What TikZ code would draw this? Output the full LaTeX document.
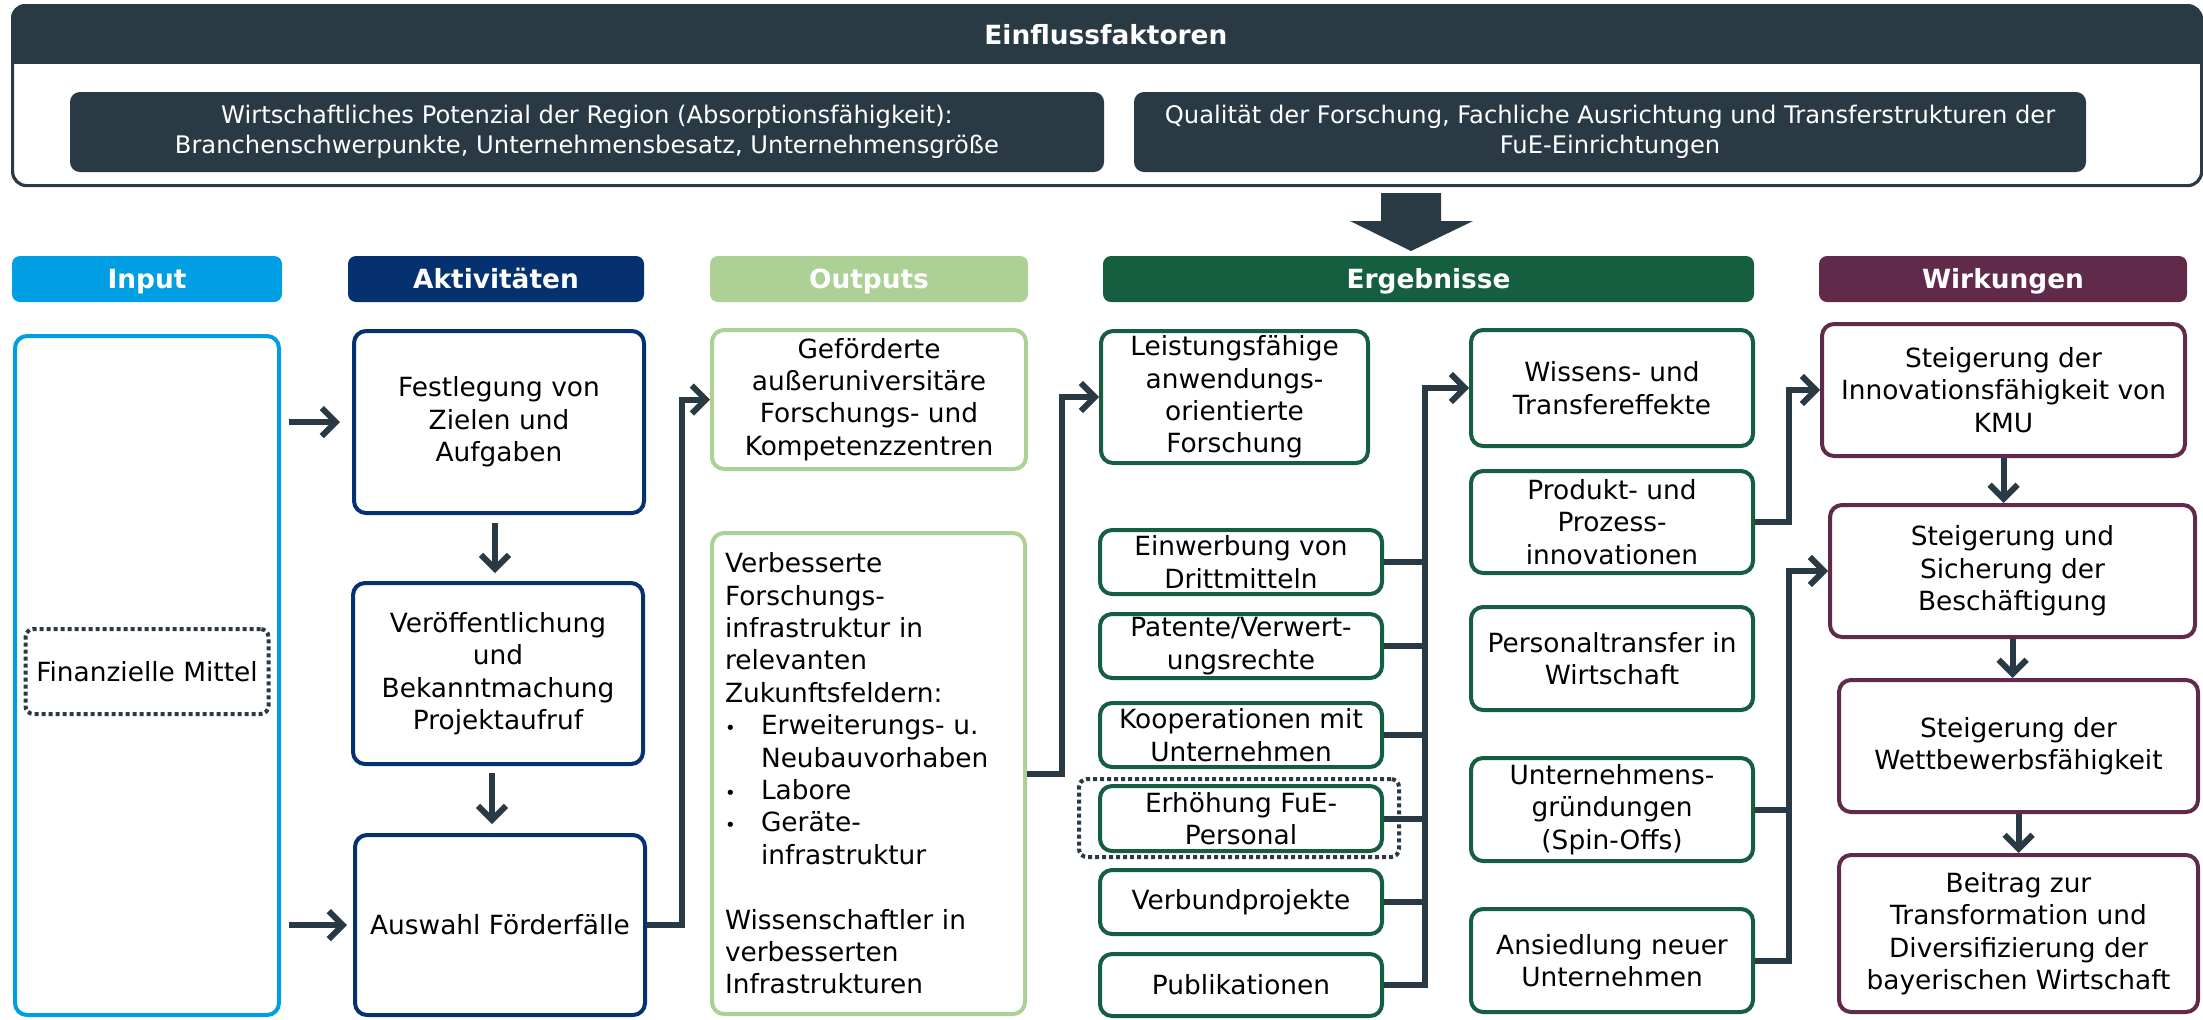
\documentclass[tikz,border=0pt]{standalone}
\usepackage{fontspec}
\setmainfont{DejaVu Sans}
\usetikzlibrary{arrows.meta}
\definecolor{slate}{HTML}{2A3A45}
\definecolor{inblue}{HTML}{009FE3}
\definecolor{navy}{HTML}{063170}
\definecolor{lgreen}{HTML}{ADD095}
\definecolor{dgreen}{HTML}{155E40}
\definecolor{plum}{HTML}{622A4A}
\begin{document}
\begin{tikzpicture}[x=0.5pt,y=-0.5pt,
  every node/.style={font=\fontsize{13.2}{16.2}\selectfont, text=black, inner sep=0pt},
  hdr/.style={rounded corners=4pt, minimum height=23pt, text=white, text height=9.6pt, text depth=0pt, font=\bfseries\fontsize{13.2}{16.2}\selectfont},
  bx/.style={draw, line width=2pt, rounded corners=6pt, fill=white, align=center},
  dark/.style={fill=slate, rounded corners=5pt, text=white, align=center, minimum height=40pt, font=\fontsize{12.1}{15}\selectfont},
  dotbox/.style={draw=slate, line width=2pt, dash pattern=on 2pt off 1.5pt, rounded corners=4pt},
  conn/.style={draw=slate, line width=3pt},
  arr/.style={conn, -{Straight Barb[length=7pt,width=14pt]}},
]
\useasboundingbox (0,0) rectangle (2203,1019);

% ---- Einflussfaktoren ----
\node[draw=slate, line width=1.6pt, rounded corners=7pt, minimum width=1094.5pt, minimum height=90pt, anchor=north west] (einfl) at (11,4) {};
\begin{scope}
\clip[rounded corners=7pt] (11,4) rectangle (2200,184);
\node[fill=slate, minimum width=1094.5pt, minimum height=30pt, anchor=north west, text=white, text height=9.6pt, text depth=0pt, font=\bfseries\fontsize{13.2}{16.2}\selectfont] (einflhead) at (11,4) {Einflussfaktoren};
\end{scope}
\node[dark, minimum width=517pt] (wp) at (587,132) {Wirtschaftliches Potenzial der Region (Absorptionsfähigkeit):\\Branchenschwerpunkte, Unternehmensbesatz, Unternehmensgröße};
\node[dark, minimum width=476pt] (qf) at (1610,132) {Qualität der Forschung, Fachliche Ausrichtung und Transferstrukturen der\\FuE-Einrichtungen};

% big arrow
\fill[slate] (1381,193) -- (1441,193) -- (1441,221) -- (1473,221) -- (1411,251) -- (1350,221) -- (1381,221) -- cycle;

% ---- headers ----
\node[hdr, fill=inblue, minimum width=135pt] (hin) at (147,279) {Input};
\node[hdr, fill=navy, minimum width=148pt] (hakt) at (496,279) {Aktivitäten};
\node[hdr, fill=lgreen, minimum width=159pt] (hout) at (869,279) {Outputs};
\node[hdr, fill=dgreen, minimum width=325.5pt] (herg) at (1428.5,279) {Ergebnisse};
\node[hdr, fill=plum, minimum width=184pt] (hwir) at (2003,279) {Wirkungen};

% ---- input ----
\node[bx, draw=inblue, minimum width=132pt, minimum height=339.5pt] (in) at (147,675.5) {};
\node[dotbox, minimum width=121.5pt, minimum height=42.5pt] (fin) at (147,671.5) {Finanzielle Mittel};

% ---- Aktivitaeten ----
\node[bx, draw=navy, minimum width=145pt, minimum height=91pt] (fest) at (499,422) {Festlegung von\\Zielen und\\Aufgaben};
\node[bx, draw=navy, minimum width=145pt, minimum height=90.5pt] (veroe) at (498,673.5) {Veröffentlichung\\und\\Bekanntmachung\\Projektaufruf};
\node[bx, draw=navy, minimum width=145pt, minimum height=90pt] (ausw) at (500,925) {Auswahl Förderfälle};

% ---- Outputs ----
\node[bx, draw=lgreen, minimum width=157pt, minimum height=69.5pt] (gef) at (869,399.5) {Geförderte\\außeruniversitäre\\Forschungs- und\\Kompetenzzentren};
\node[bx, draw=lgreen, minimum width=156.5pt, minimum height=240.5pt, text width=143.5pt, align=left] (verb) at (868.5,773.5) {Verbesserte\\Forschungs-\\infrastruktur in\\relevanten\\Zukunftsfeldern:\\\makebox[18pt][l]{\small•}Erweiterungs- u.\\\hspace*{18pt}Neubauvorhaben\\\makebox[18pt][l]{\small•}Labore\\\makebox[18pt][l]{\small•}Geräte-\\\hspace*{18pt}infrastruktur\\[16.2pt]Wissenschaftler in\\verbesserten\\Infrastrukturen};

% ---- Ergebnisse left ----
\node[bx, draw=dgreen, minimum width=133.5pt, minimum height=66pt] (leist) at (1234.5,397) {Leistungsfähige\\anwendungs-\\orientierte\\Forschung};
\node[bx, draw=dgreen, minimum width=141pt, minimum height=32pt] (einw) at (1241,562) {Einwerbung von\\Drittmitteln};
\node[bx, draw=dgreen, minimum width=141pt, minimum height=32pt] (pat) at (1241,646) {Patente/Verwert-\\ungsrechte};
\node[bx, draw=dgreen, minimum width=141pt, minimum height=32pt] (koop) at (1241,735) {Kooperationen mit\\Unternehmen};
\node[dotbox, minimum width=160pt, minimum height=39pt] (erhdot) at (1239,818) {};
\node[bx, draw=dgreen, minimum width=141pt, minimum height=32.5pt] (erh) at (1241,818.5) {Erhöhung FuE-\\Personal};
\node[bx, draw=dgreen, minimum width=141pt, minimum height=32pt] (verbund) at (1241,902) {Verbundprojekte};
\node[bx, draw=dgreen, minimum width=141pt, minimum height=31pt] (publ) at (1241,985) {Publikationen};

% ---- Ergebnisse right ----
\node[bx, draw=dgreen, minimum width=141pt, minimum height=58pt] (wiss) at (1612,388) {Wissens- und\\Transfereffekte};
\node[bx, draw=dgreen, minimum width=141pt, minimum height=51pt] (prod) at (1612,522) {Produkt- und\\Prozess-\\innovationen};
\node[bx, draw=dgreen, minimum width=141pt, minimum height=51.5pt] (pers) at (1612,658.5) {Personaltransfer in\\Wirtschaft};
\node[bx, draw=dgreen, minimum width=141pt, minimum height=51.5pt] (unt) at (1612,809.5) {Unternehmens-\\gründungen\\(Spin-Offs)};
\node[bx, draw=dgreen, minimum width=141pt, minimum height=51.5pt] (ans) at (1612,960.5) {Ansiedlung neuer\\Unternehmen};

% ---- Wirkungen ----
\node[bx, draw=plum, minimum width=181.5pt, minimum height=66pt] (inno) at (2003.5,390) {Steigerung der\\Innovationsfähigkeit von\\KMU};
\node[bx, draw=plum, minimum width=182.5pt, minimum height=66pt] (sich) at (2012.5,571) {Steigerung und\\Sicherung der\\Beschäftigung};
\node[bx, draw=plum, minimum width=179.5pt, minimum height=66pt] (wett) at (2018.5,746) {Steigerung der\\Wettbewerbsfähigkeit};
\node[bx, draw=plum, minimum width=179.5pt, minimum height=78.5pt] (beit) at (2018.5,933.5) {Beitrag zur\\Transformation und\\Diversifizierung der\\bayerischen Wirtschaft};

% ---- connectors ----
\coordinate (bus1x) at (1425,0);
\coordinate (bus2x) at (1789,0);

\draw[arr, shorten <=4pt, shorten >=6pt] (in.east |- fest.west) -- (fest.west);
\draw[arr, shorten <=4pt, shorten >=3pt] (in.east |- ausw.west) -- (ausw.west);
\draw[arr, shorten <=4pt, shorten >=4pt] ([xshift=-2pt]fest.south) -- ([xshift=-2pt]fest.south |- veroe.north);
\draw[arr, shorten <=3.5pt, shorten >=4.5pt] ([xshift=-3pt]veroe.south) -- ([xshift=-3pt]veroe.south |- ausw.north);

\draw[arr] (ausw.east) -- ++(35,0) |- (gef.west);
\draw[arr] (verb.east) -- ++(35,0) |- (leist.west);

\draw[conn] (einw.east) -- (einw.east -| bus1x);
\draw[conn] (pat.east) -- (pat.east -| bus1x);
\draw[conn] (koop.east) -- (koop.east -| bus1x);
\draw[conn] (erh.east) -- (erh.east -| bus1x);
\draw[conn] (verbund.east) -- (verbund.east -| bus1x);
\draw[arr] (publ.east) -- (publ.east -| bus1x) |- (wiss.west);

\draw[arr] (prod.east) -- (prod.east -| bus2x) |- (inno.west);
\draw[conn] (unt.east) -- (unt.east -| bus2x);
\draw[arr] (ans.east) -- (ans.east -| bus2x) |- (sich.west);

\draw[arr] (inno.south) -- (inno.south |- sich.north);
\draw[arr] (sich.south) -- (sich.south |- wett.north);
\draw[arr] (wett.south) -- (wett.south |- beit.north);
\end{tikzpicture}
\end{document}
